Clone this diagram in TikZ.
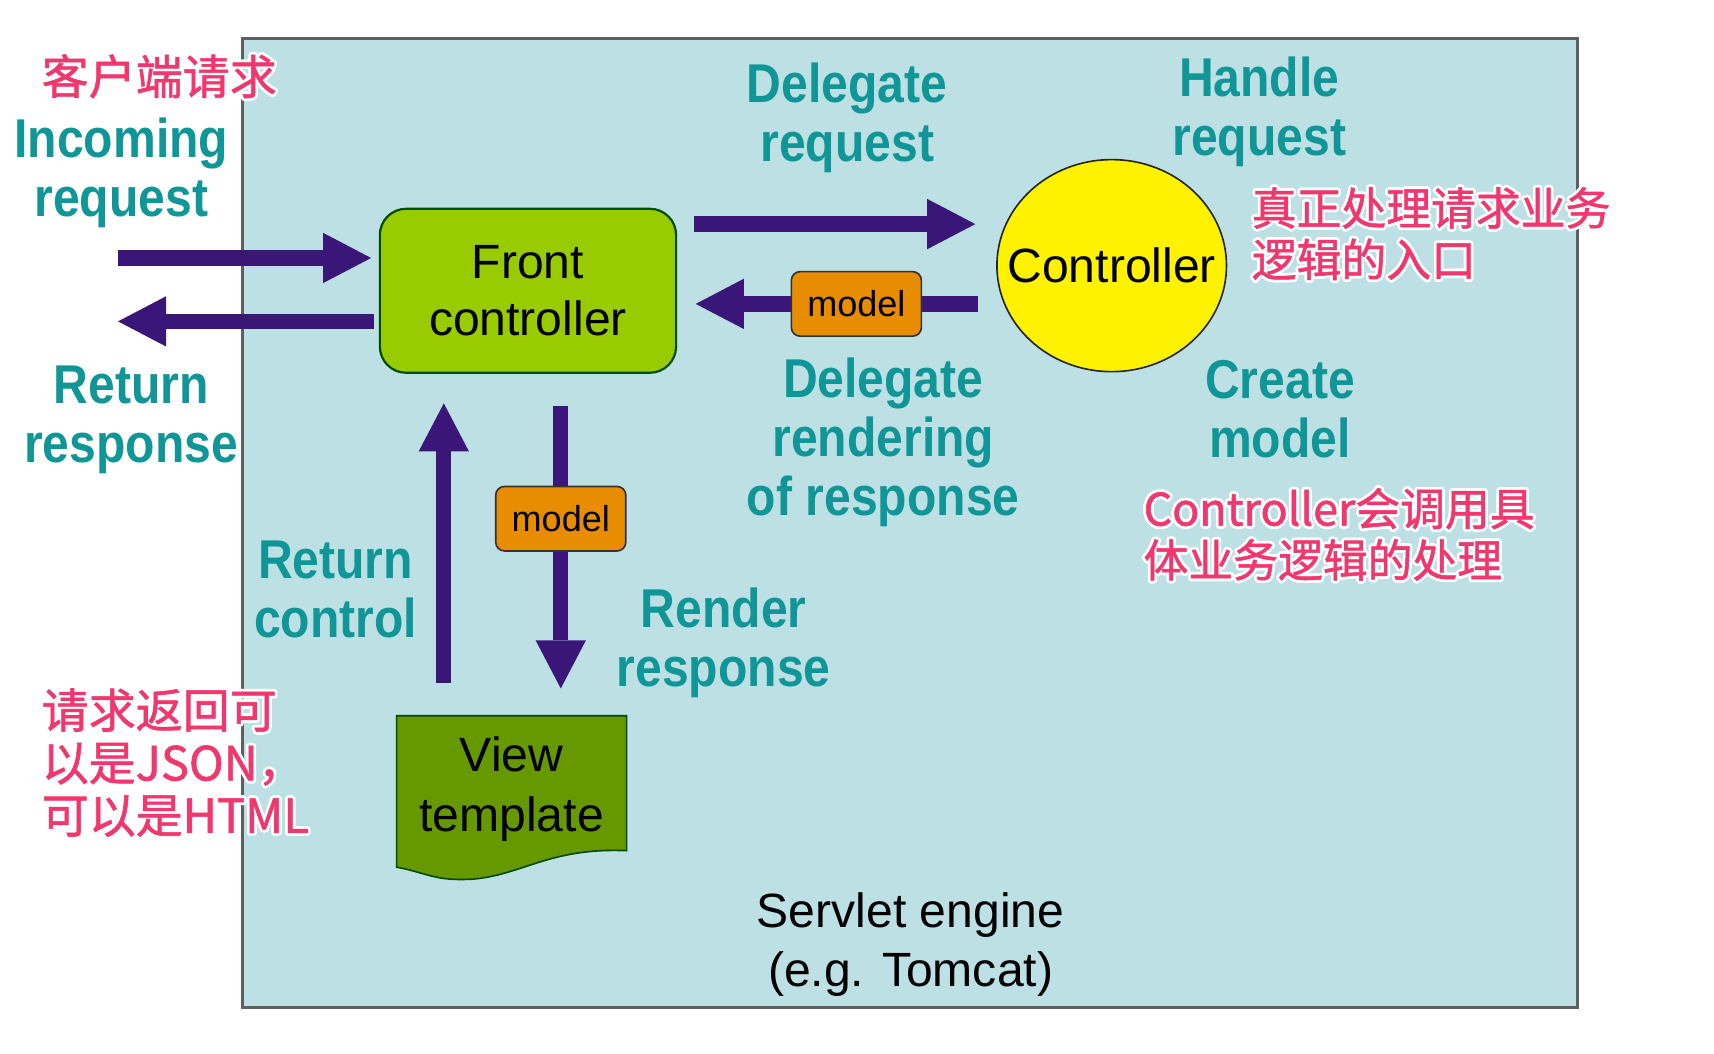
\documentclass[tikz,border=0pt]{standalone}
\usepackage{fontspec}
\usepackage{contour}
\setmainfont{Liberation Sans}
\newfontfamily\tealfont[FakeStretch=0.88]{Liberation Sans}
\newfontfamily\cjk[FakeBold=1.2]{Noto Sans CJK SC}
\usetikzlibrary{arrows.meta,calc,shapes.geometric,backgrounds}
\contourlength{2.5pt}
\definecolor{tealc}{RGB}{16,150,150}
\definecolor{pinkc}{RGB}{240,55,110}
\definecolor{arrowc}{RGB}{58,22,120}
\definecolor{bluebg}{RGB}{188,224,227}
\definecolor{fcgreen}{RGB}{153,204,0}
\definecolor{viewgreen}{RGB}{102,153,0}
\definecolor{modelorange}{RGB}{232,140,0}
\definecolor{edgegray}{RGB}{95,95,95}
\newcommand{\halo}[1]{\contour{white}{#1}}
\tikzset{
  bigarrow/.style={line width=14pt, draw=arrowc, -{Triangle[length=44pt,width=46pt,line width=0pt]}},
  tlabel/.style={text=tealc, font=\tealfont\bfseries\fontsize{50}{54}\selectfont, align=center, inner sep=0pt},
  plabel/.style={text=pinkc, font=\cjk\fontsize{41}{47}\selectfont, align=left, inner sep=0pt, anchor=west},
  pbig/.style={plabel, font=\cjk\fontsize{43}{48}\selectfont},
  boxtext/.style={font=\fontsize{44}{52}\selectfont, align=center, text=black},
  modelbox/.style={fill=modelorange, draw=black!80, line width=1.5pt, rounded corners=8pt, minimum width=119pt, minimum height=59pt, inner sep=0pt, font=\fontsize{33}{36}\selectfont, text=black},
}
\begin{document}
\begin{tikzpicture}[x=1pt,y=-1pt]
\begin{scope}[on background layer]
  \fill[white] (0,0) rectangle (1568,964);
  \draw[fill=bluebg, draw=edgegray, line width=2.5pt] (222,35) rectangle (1443,922);
\end{scope}
\useasboundingbox (0,0) rectangle (1568,964);

% main nodes
\node[boxtext, fill=fcgreen, draw=black!70!green, line width=2pt, rounded corners=24pt,
      minimum width=271pt, minimum height=150pt, inner sep=0pt] (fc) at (483,266) {Front\\controller};
\node[boxtext, ellipse, fill=yellow, draw=black!85, line width=1.5pt,
      minimum width=210pt, minimum height=194pt, inner sep=0pt] (ctrl) at (1017,243) {\makebox[0pt]{Controller}};
\node[boxtext, minimum width=210pt, minimum height=134pt, inner sep=0pt,
      font=\fontsize{44}{55}\selectfont] (view) at (468,722) {View\\template};
\begin{scope}[on background layer]
  \fill[viewgreen, draw=black!70!green, line width=1.5pt]
    (view.north west) -- (view.north east) -- ($(view.south east)+(0,-11)$)
    .. controls ($(view.south east)+(-70,-14)$) and ($(view.south)+(10,11)$) .. ($(view.south)+(-35,15)$)
    .. controls ($(view.south)+(-70,17)$) and ($(view.south west)+(30,10)$) .. ($(view.south west)+(0,4)$)
    -- cycle;
\end{scope}
\node[font=\fontsize{44}{54}\selectfont, align=center] (engine) at (833,864) {Servlet engine\\(e.g. Tomcat)};

% arrows
\coordinate (inL) at (108,236);
\coordinate (outL) at (108,294);
\draw[bigarrow] (inL) -- ($(fc.west)+(-7,-30)$);
\draw[bigarrow] ($(fc.west)+(-4,28)$) -- (outL);
\draw[bigarrow] ($(fc.east)+(15,-61)$) -- ($(fc.east -| ctrl.west)+(-19,-61)$);
\draw[bigarrow] ($(fc.east -| ctrl.west)+(-17,12)$) -- node[modelbox,pos=0.43] (m1) {model} ($(fc.east)+(17,12)$);
\draw[bigarrow] ($(view.north)+(-62,-30)$) -- ($(fc.south)+(-77,27)$);
\draw[bigarrow] ($(fc.south)+(30,29)$) -- node[modelbox,pos=0.40] (m2) {model} ($(view.north)+(45,-25)$);

% teal labels
\node[tlabel] (l1) at (111,158) {Incoming\\request};
\node[tlabel] (l2) at (120,384) {Return\\response};
\node[tlabel] (l3) at (775,108) {Delegate\\request};
\node[tlabel] (l4) at (1152,102) {Handle\\request};
\node[tlabel] (l5) at (808,405) {Delegate\\rendering\\of response};
\node[tlabel] (l6) at (1171,374) {Create\\model};
\node[tlabel] (l7) at (307,539) {Return\\control};
\node[tlabel] (l8) at (662,588) {Render\\response};

% pink annotations
\node[pbig] (p1) at (38,71) {\halo{客户端请求}};
\node[plabel] (p2) at (1145,215) {\halo{真正处理请求业务}\\\halo{逻辑的入口}};
\node[plabel] (p3) at (1046,490) {\halo{Controller会调用具}\\\halo{体业务逻辑的处理}};
\node[pbig] (p4) at (38,699) {\halo{请求返回可}\\\halo{以是JSON，}\\\halo{可以是HTML}};
\end{tikzpicture}
\end{document}
